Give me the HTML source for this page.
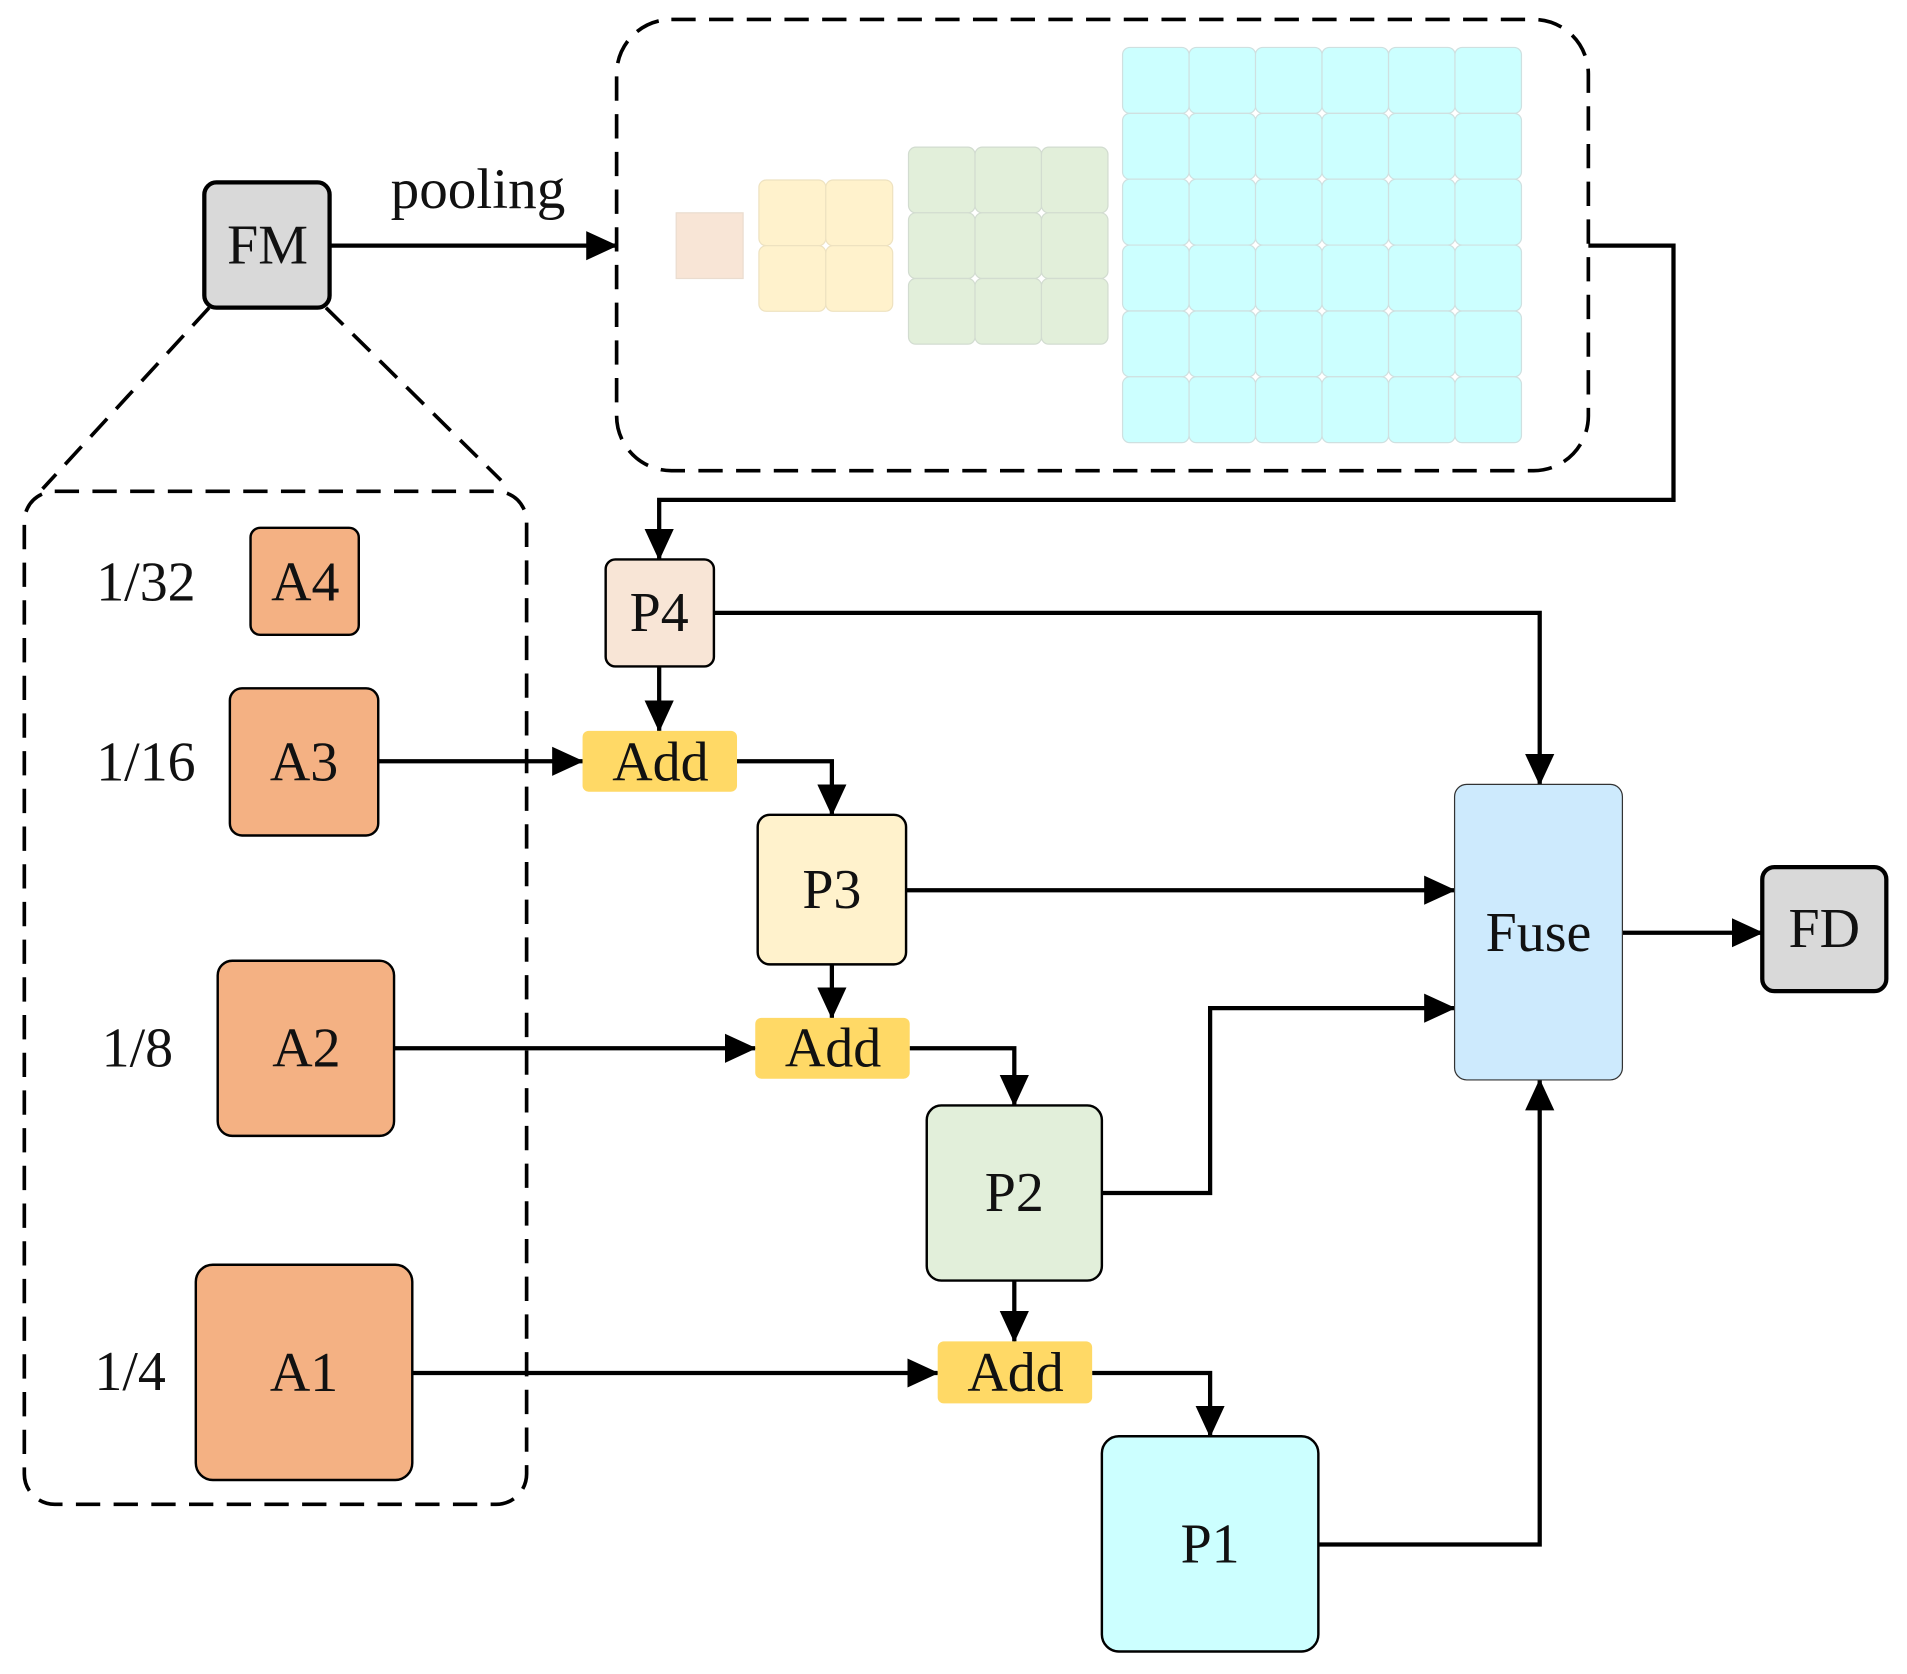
<!DOCTYPE html>
<html><head><meta charset="utf-8"><style>html,body{margin:0;padding:0;background:#fff}svg{display:block}</style></head>
<body>
<svg width="1907" height="1674" viewBox="0 0 1568 1376.5" preserveAspectRatio="none" xmlns="http://www.w3.org/2000/svg" font-family="Liberation Serif, serif">
<defs>
<marker id="ah" markerUnits="userSpaceOnUse" markerWidth="26" markerHeight="24" refX="25" refY="12" orient="auto"><path d="M0,0 L26,12 L0,24 z" fill="#000"/></marker>
</defs>
<g stroke="#d0d8d8" stroke-width="1">
<rect x="556" y="175" width="55" height="54" fill="#f8e5d6" stroke="#eadccf"/>
<g fill="#fff2cc" stroke="#eee2c0">
<rect x="624" y="148" width="55" height="54" rx="6"/><rect x="679" y="148" width="55" height="54" rx="6"/>
<rect x="624" y="202" width="55" height="54" rx="6"/><rect x="679" y="202" width="55" height="54" rx="6"/>
</g>
<g fill="#e2efda" stroke="#d2dcd0">
<rect x="747" y="121" width="54.7" height="54" rx="6"/><rect x="801.7" y="121" width="54.7" height="54" rx="6"/><rect x="856.3" y="121" width="54.7" height="54" rx="6"/>
<rect x="747" y="175" width="54.7" height="54" rx="6"/><rect x="801.7" y="175" width="54.7" height="54" rx="6"/><rect x="856.3" y="175" width="54.7" height="54" rx="6"/>
<rect x="747" y="229" width="54.7" height="54" rx="6"/><rect x="801.7" y="229" width="54.7" height="54" rx="6"/><rect x="856.3" y="229" width="54.7" height="54" rx="6"/>
</g>
<g fill="#ccffff" stroke="#cfe0e0">
<rect x="923" y="39" width="54.7" height="54.2" rx="6"/><rect x="977.7" y="39" width="54.7" height="54.2" rx="6"/><rect x="1032.3" y="39" width="54.7" height="54.2" rx="6"/><rect x="1087" y="39" width="54.7" height="54.2" rx="6"/><rect x="1141.7" y="39" width="54.7" height="54.2" rx="6"/><rect x="1196.3" y="39" width="54.7" height="54.2" rx="6"/>
<rect x="923" y="93.2" width="54.7" height="54.2" rx="6"/><rect x="977.7" y="93.2" width="54.7" height="54.2" rx="6"/><rect x="1032.3" y="93.2" width="54.7" height="54.2" rx="6"/><rect x="1087" y="93.2" width="54.7" height="54.2" rx="6"/><rect x="1141.7" y="93.2" width="54.7" height="54.2" rx="6"/><rect x="1196.3" y="93.2" width="54.7" height="54.2" rx="6"/>
<rect x="923" y="147.3" width="54.7" height="54.2" rx="6"/><rect x="977.7" y="147.3" width="54.7" height="54.2" rx="6"/><rect x="1032.3" y="147.3" width="54.7" height="54.2" rx="6"/><rect x="1087" y="147.3" width="54.7" height="54.2" rx="6"/><rect x="1141.7" y="147.3" width="54.7" height="54.2" rx="6"/><rect x="1196.3" y="147.3" width="54.7" height="54.2" rx="6"/>
<rect x="923" y="201.5" width="54.7" height="54.2" rx="6"/><rect x="977.7" y="201.5" width="54.7" height="54.2" rx="6"/><rect x="1032.3" y="201.5" width="54.7" height="54.2" rx="6"/><rect x="1087" y="201.5" width="54.7" height="54.2" rx="6"/><rect x="1141.7" y="201.5" width="54.7" height="54.2" rx="6"/><rect x="1196.3" y="201.5" width="54.7" height="54.2" rx="6"/>
<rect x="923" y="255.7" width="54.7" height="54.2" rx="6"/><rect x="977.7" y="255.7" width="54.7" height="54.2" rx="6"/><rect x="1032.3" y="255.7" width="54.7" height="54.2" rx="6"/><rect x="1087" y="255.7" width="54.7" height="54.2" rx="6"/><rect x="1141.7" y="255.7" width="54.7" height="54.2" rx="6"/><rect x="1196.3" y="255.7" width="54.7" height="54.2" rx="6"/>
<rect x="923" y="309.8" width="54.7" height="54.2" rx="6"/><rect x="977.7" y="309.8" width="54.7" height="54.2" rx="6"/><rect x="1032.3" y="309.8" width="54.7" height="54.2" rx="6"/><rect x="1087" y="309.8" width="54.7" height="54.2" rx="6"/><rect x="1141.7" y="309.8" width="54.7" height="54.2" rx="6"/><rect x="1196.3" y="309.8" width="54.7" height="54.2" rx="6"/>
</g>
</g>
<g fill="none" stroke="#000" stroke-width="3" stroke-dasharray="20,11">
<rect x="507" y="16" width="799" height="371" rx="45"/>
<rect x="20" y="404" width="413" height="833" rx="25"/>
<line x1="172" y1="253" x2="35" y2="402"/>
<line x1="268" y1="253" x2="412" y2="395"/>
</g>
<g fill="none" stroke="#000" stroke-width="3.5" marker-end="url(#ah)">
<path d="M271,202 L507,202"/>
<path d="M1306,202 L1376,202 L1376,411 L542,411 L542,460"/>
<path d="M542,548 L542,601"/>
<path d="M311,626 L479,626"/>
<path d="M606,626 L684,626 L684,670"/>
<path d="M684,793 L684,837"/>
<path d="M324,862 L621,862"/>
<path d="M748,862 L834,862 L834,909"/>
<path d="M834,1053 L834,1103"/>
<path d="M339,1129 L771,1129"/>
<path d="M898,1129 L995,1129 L995,1181"/>
<path d="M587,504 L1266,504 L1266,645"/>
<path d="M745,732 L1196,732"/>
<path d="M906,981 L995,981 L995,829 L1196,829"/>
<path d="M1084,1270 L1266,1270 L1266,888"/>
<path d="M1334,767 L1449,767"/>
</g>
<g stroke="#000">
<rect x="168" y="150" width="103" height="103" rx="10" fill="#d9d9d9" stroke-width="3.5"/>
<rect x="1449" y="713" width="102" height="102" rx="10" fill="#d9d9d9" stroke-width="3.5"/>
<g fill="#f4b183" stroke-width="2">
<rect x="206" y="434" width="89" height="88" rx="8"/>
<rect x="189" y="566" width="122" height="121" rx="10"/>
<rect x="179" y="790" width="145" height="144" rx="12"/>
<rect x="161" y="1040" width="178" height="177" rx="14"/>
</g>
<rect x="498" y="460" width="89" height="88" rx="8" fill="#f8e5d6" stroke-width="2"/>
<rect x="623" y="670" width="122" height="123" rx="10" fill="#fff2cc" stroke-width="2"/>
<rect x="762" y="909" width="144" height="144" rx="12" fill="#e2efda" stroke-width="2"/>
<rect x="906" y="1181" width="178" height="177" rx="14" fill="#ccffff" stroke-width="2"/>
<rect x="1196" y="645" width="138" height="243" rx="10" fill="#cdeafd" stroke="#333" stroke-width="1"/>
</g>
<g fill="#ffd966">
<rect x="479" y="601" width="127" height="50" rx="5"/>
<rect x="621" y="837" width="127" height="50" rx="5"/>
<rect x="771" y="1103" width="127" height="51" rx="5"/>
</g>
<g font-size="46" text-anchor="middle" dominant-baseline="central" fill="#111">
<text x="220" y="202">FM</text>
<text x="1500" y="764">FD</text>
<text x="393" y="156" font-size="47">pooling</text>
<text x="251" y="479">A4</text>
<text x="250" y="627">A3</text>
<text x="252" y="862">A2</text>
<text x="250" y="1129">A1</text>
<text x="120" y="479">1/32</text>
<text x="120" y="627">1/16</text>
<text x="113" y="862">1/8</text>
<text x="107" y="1128">1/4</text>
<text x="542" y="504">P4</text>
<text x="684" y="732">P3</text>
<text x="834" y="981">P2</text>
<text x="995" y="1270">P1</text>
<text x="543" y="627">Add</text>
<text x="685" y="862">Add</text>
<text x="835" y="1129">Add</text>
<text x="1265" y="767">Fuse</text>
</g>
</svg>
</body></html>
